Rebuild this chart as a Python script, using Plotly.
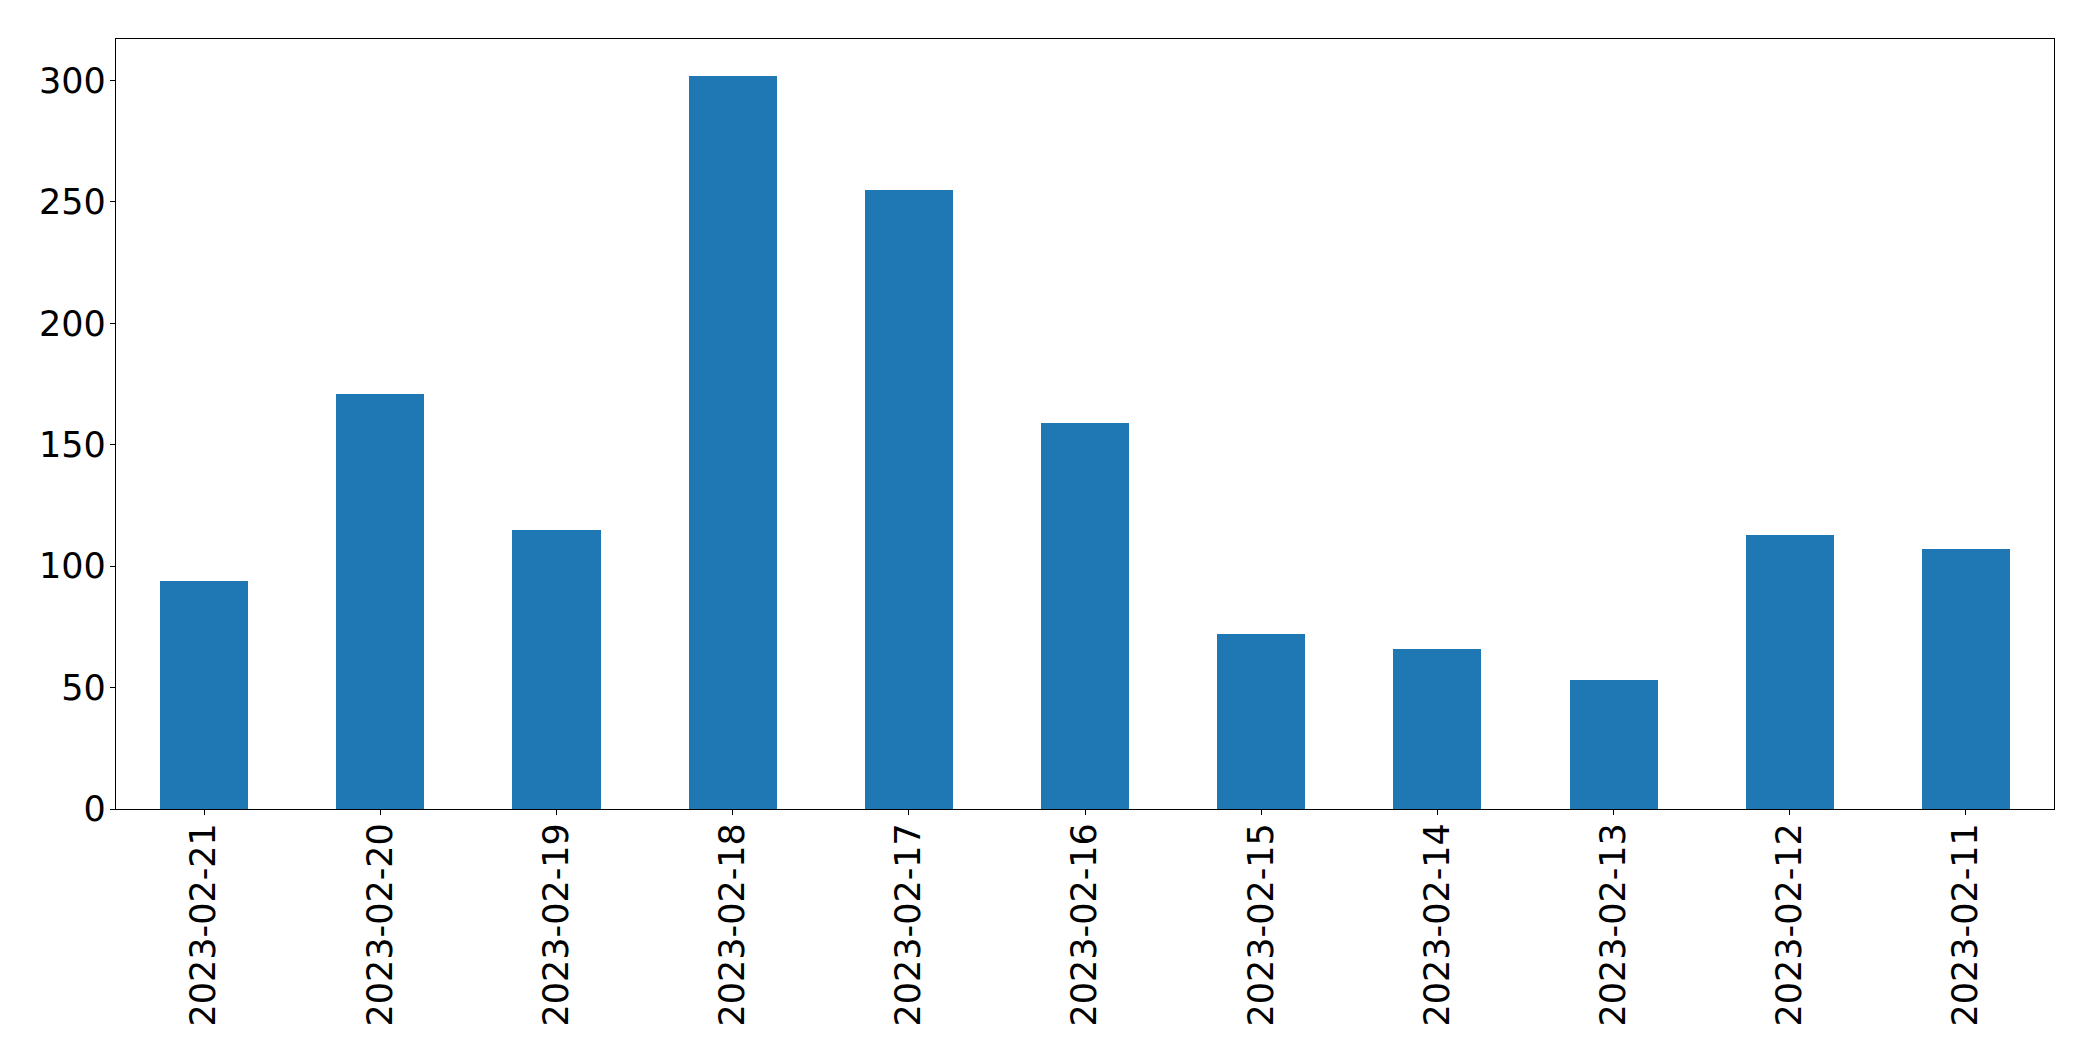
import plotly.graph_objects as go

dates = ["2023-02-21", "2023-02-20", "2023-02-19", "2023-02-18", "2023-02-17",
         "2023-02-16", "2023-02-15", "2023-02-14", "2023-02-13", "2023-02-12",
         "2023-02-11"]
counts = [94, 171, 115, 302, 255, 159, 72, 66, 53, 113, 107]
y_ticks = [0, 50, 100, 150, 200, 250, 300]

fig = go.Figure(go.Bar(
    x=dates, y=counts, width=0.5,
    marker=dict(color="#1f77b4", line=dict(width=0)),
))

font = dict(family="DejaVu Sans", size=35, color="black")
fig.update_layout(
    width=2093, height=1061,
    margin=dict(l=108, r=47, t=31, b=260, pad=0),
    paper_bgcolor="white", plot_bgcolor="white",
    showlegend=False, font=font,
    bargap=0,
)
fig.update_xaxes(
    type="category", range=[-0.5, len(dates) - 0.5],
    showline=True, linecolor="black", linewidth=1.3, mirror=True,
    ticks="outside", ticklen=5, tickwidth=1.3, tickcolor="black",
    tickangle=-90, tickfont=font, showgrid=False, zeroline=False,
    ticklabelstandoff=-6,
)
fig.update_yaxes(
    range=[0, max(counts) * 1.05],
    tickvals=y_ticks, ticktext=[str(v) for v in y_ticks],
    showline=True, linecolor="black", linewidth=1.3, mirror=True,
    ticks="outside", ticklen=5, tickwidth=1.3, tickcolor="black",
    tickfont=font, showgrid=False, zeroline=False,
    ticklabelstandoff=-3,
)
fig.write_html("out.html")
